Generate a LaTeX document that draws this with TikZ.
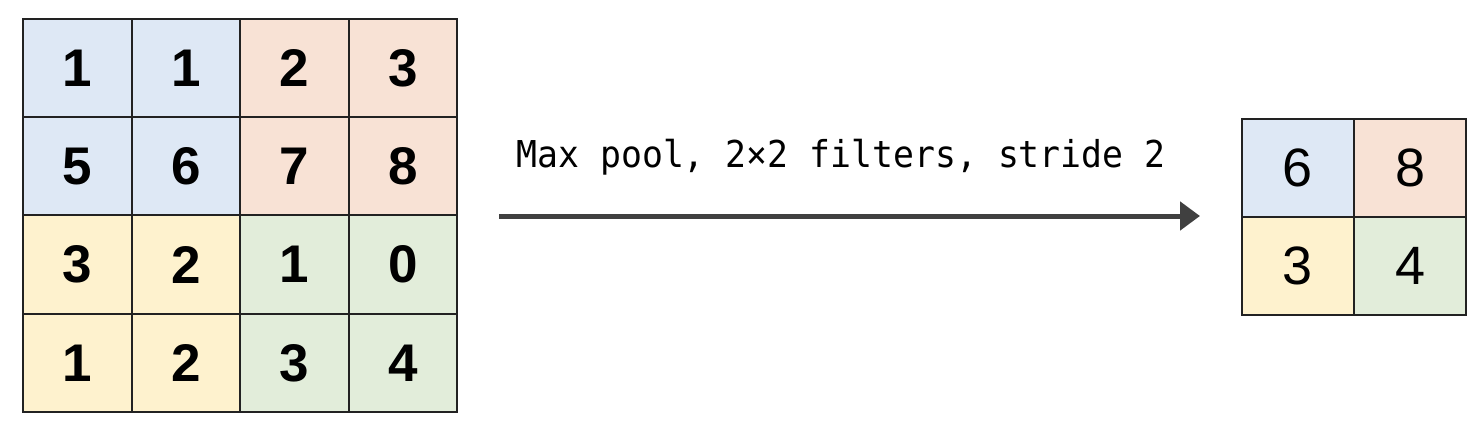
\documentclass[tikz,border=0pt]{standalone}
\usepackage{fontspec}
\setmainfont{Liberation Sans}
\newfontfamily\lblfont[FakeStretch=0.94]{DejaVu Sans Mono}
\usetikzlibrary{arrows.meta}
\definecolor{cblue}{RGB}{222,232,245}
\definecolor{corange}{RGB}{248,226,213}
\definecolor{cyellow}{RGB}{254,242,206}
\definecolor{cgreen}{RGB}{226,237,218}
\definecolor{cborder}{RGB}{34,34,34}
\definecolor{carrow}{RGB}{64,64,64}
\begin{document}
\begin{tikzpicture}[x=1pt,y=-1pt,
  cell/.style={draw=cborder,line width=2pt,minimum width=108.5pt,minimum height=98.25pt,inner sep=0pt,anchor=center},
  bigdigit/.style={cell,font=\fontsize{53}{53}\selectfont\bfseries},
  smalldigit/.style={cell,minimum width=112pt,minimum height=98pt,font=\fontsize{54}{54}\selectfont},
  conn/.style={draw=carrow,line width=5pt,-{Triangle[length=20pt,width=28pt]}}]
\useasboundingbox (0,0) rectangle (1483,425);
% left grid
\node[bigdigit,fill=cblue]   (a11) at (77.25,68.1) {1};
\node[bigdigit,fill=cblue]   (a12) at (185.75,68.1) {1};
\node[bigdigit,fill=corange] (a13) at (294.25,68.1) {2};
\node[bigdigit,fill=corange] (a14) at (402.75,68.1) {3};
\node[bigdigit,fill=cblue]   (a21) at (77.25,166.4) {5};
\node[bigdigit,fill=cblue]   (a22) at (185.75,166.4) {6};
\node[bigdigit,fill=corange] (a23) at (294.25,166.4) {7};
\node[bigdigit,fill=corange] (a24) at (402.75,166.4) {8};
\node[bigdigit,fill=cyellow] (a31) at (77.25,264.6) {3};
\node[bigdigit,fill=cyellow] (a32) at (185.75,264.6) {2};
\node[bigdigit,fill=cgreen]  (a33) at (294.25,264.6) {1};
\node[bigdigit,fill=cgreen]  (a34) at (402.75,264.6) {0};
\node[bigdigit,fill=cyellow] (a41) at (77.25,362.9) {1};
\node[bigdigit,fill=cyellow] (a42) at (185.75,362.9) {2};
\node[bigdigit,fill=cgreen]  (a43) at (294.25,362.9) {3};
\node[bigdigit,fill=cgreen]  (a44) at (402.75,362.9) {4};
% right grid
\node[smalldigit,fill=cblue]   (b11) at (1298,168) {6};
\node[smalldigit,fill=corange] (b12) at (1410,168) {8};
\node[smalldigit,fill=cyellow] (b21) at (1298,266) {3};
\node[smalldigit,fill=cgreen]  (b22) at (1410,266) {4};
% arrow
\coordinate (arrs) at (499,216);
\coordinate (arre) at (1200,216);
\draw[conn] (arrs) -- (arre);
\node[font=\lblfont\fontsize{37}{37}\selectfont,text=black,inner sep=0pt] (lbl) at (841,157) {Max pool, 2×2 filters, stride 2};
\end{tikzpicture}
\end{document}
